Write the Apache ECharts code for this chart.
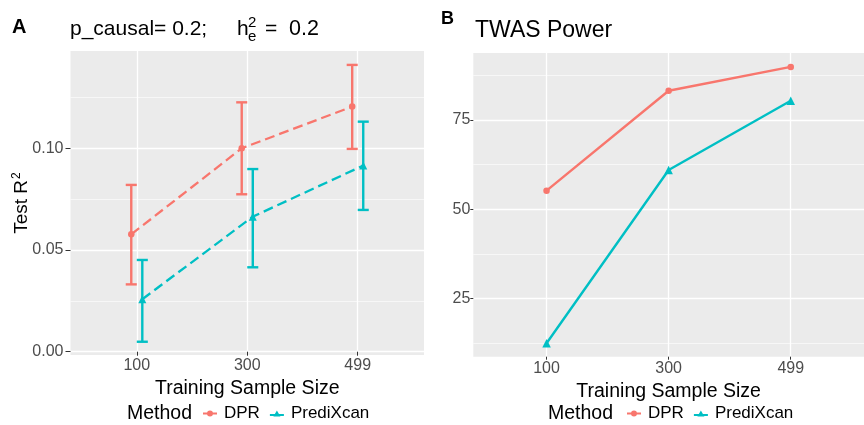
<!DOCTYPE html>
<html><head><meta charset="utf-8">
<script src="https://cdn.jsdelivr.net/npm/echarts@6/dist/echarts.min.js"></script>
<style>html,body{margin:0;padding:0;background:#fff}#c{width:864px;height:425px}</style>
</head><body><div id="c"></div>
<script>
// ---------- data ----------
const categories = ['100', '300', '499'];
const methods = ['DPR', 'PrediXcan'];
// Panel A: Test R^2 (mean, lower, upper)
const dprR2 = [0.0577, 0.1000, 0.1205];
const dprR2Low = [0.0331, 0.0774, 0.0997];
const dprR2High = [0.0820, 0.1226, 0.1410];
const predR2 = [0.0258, 0.0664, 0.0915];
const predR2Low = [0.0049, 0.0415, 0.0697];
const predR2High = [0.0451, 0.0898, 0.1131];
// Panel B: TWAS power
const dprPower = [55.2, 83.2, 89.9];
const predPower = [12.4, 61.0, 80.4];
// tick values
const r2Ticks = [0, 0.05, 0.10];
const r2Minor = [0.025, 0.075, 0.125];
const powerTicks = [25, 50, 75];
const powerMinor = [12.5, 37.5, 62.5, 87.5];

// ---------- style ----------
const FONT = 'Liberation Sans, Arial, Helvetica, sans-serif';
const RED = '#F8766D', CYAN = '#00BFC4';
const PANEL = '#EBEBEB';
const DODGE = 0.05, CAP = 0.05;
const catIdx = categories.map((c, i) => i);

const chart = echarts.init(document.getElementById('c'), null, {renderer: 'canvas'});

function xAxisFor(grid, tickLen, margin) {
  return {
    type: 'value', gridIndex: grid, min: -0.6, max: 2.6, position: 'bottom',
    axisLine: {show: false},
    axisTick: {show: true, customValues: catIdx, length: tickLen, lineStyle: {color: '#333', width: 1}},
    axisLabel: {customValues: catIdx, formatter: v => categories[Math.round(v)], color: '#4D4D4D', fontSize: 16, fontFamily: FONT, margin: margin},
    splitLine: {show: true, lineStyle: {color: '#fff', width: 1.3}},
    name: 'Training Sample Size', nameLocation: 'middle', nameGap: 20,
    nameTextStyle: {fontSize: 19.5, color: '#000', fontFamily: FONT}
  };
}
function yMajor(grid, min, max, ticks, fmt, tickLen, margin, extra) {
  return Object.assign({
    type: 'value', gridIndex: grid, min: min, max: max, position: 'left', offset: 0,
    axisLine: {show: false},
    axisTick: {show: true, customValues: ticks, length: tickLen, lineStyle: {color: '#333', width: 1}},
    axisLabel: {customValues: ticks, formatter: fmt, color: '#4D4D4D', fontSize: 16, fontFamily: FONT, margin: margin},
    splitLine: {show: true, lineStyle: {color: '#fff', width: 1.3}}
  }, extra || {});
}
function yMinor(grid, min, max, ticks) {
  return {
    type: 'value', gridIndex: grid, min: min, max: max, position: 'left', offset: 0,
    axisLine: {show: false},
    axisTick: {show: false, customValues: ticks},
    axisLabel: {show: false, customValues: ticks},
    splitLine: {show: true, lineStyle: {color: '#fff', width: 0.6}}
  };
}

function errRender(params, api) {
  const x = api.value(0), lo = api.value(1), hi = api.value(2);
  const pLo = api.coord([x, lo]), pHi = api.coord([x, hi]);
  const hw = api.size([CAP, 0])[0];
  const style = {stroke: api.visual('color'), lineWidth: 2.4, fill: null};
  return {type: 'group', children: [
    {type: 'line', shape: {x1: pLo[0], y1: pLo[1], x2: pHi[0], y2: pHi[1]}, style: style},
    {type: 'line', shape: {x1: pLo[0] - hw, y1: pLo[1], x2: pLo[0] + hw, y2: pLo[1]}, style: style},
    {type: 'line', shape: {x1: pHi[0] - hw, y1: pHi[1], x2: pHi[0] + hw, y2: pHi[1]}, style: style}
  ]};
}

const iconDot = 'path://M0,2L14,2L14,4L0,4Z M7,0 A3,3 0 1,1 6.99,0 Z';
const iconTri = 'path://M0,3.5L14,3.5L14,5.5L0,5.5Z M7,0 L10.5,6 L3.5,6 Z';
const legendData = [{name: 'DPR', icon: iconDot}, {name: 'PrediXcan', icon: iconTri}];
function legendAt(left) {
  return {
    left: left, top: 405, orient: 'horizontal', padding: 0, itemGap: 10,
    itemWidth: 14, itemHeight: 6, selectedMode: false,
    data: legendData,
    textStyle: {fontSize: 17, color: '#000', fontFamily: FONT, padding: [0, 0, 0, 2]}
  };
}

const fmtR2 = v => v.toFixed(2);
const fmtP = v => String(Math.round(v));

const option = {
  animation: false,
  backgroundColor: '#fff',
  grid: [
    {left: 70.5, top: 51, width: 353.5, height: 304, show: true, backgroundColor: PANEL, borderWidth: 0},
    {left: 473.3, top: 53, width: 390.7, height: 303.7, show: true, backgroundColor: PANEL, borderWidth: 0}
  ],
  xAxis: [xAxisFor(0, 4, 3), xAxisFor(1, 3, 4)],
  yAxis: [
    yMinor(0, -0.00162, 0.14784, r2Minor),
    yMajor(0, -0.00162, 0.14784, r2Ticks, fmtR2, 5, 7, {
      name: 'Test R{sup|2}', nameLocation: 'middle', nameGap: 38, nameRotate: 90, nameMoveOverlap: false,
      nameTextStyle: {fontSize: 19, color: '#000', fontFamily: FONT,
        rich: {sup: {fontSize: 12, color: '#000', fontFamily: FONT, padding: [0, 0, 10, 1]}}}
    }),
    yMinor(1, 8.63, 93.8, powerMinor),
    yMajor(1, 8.63, 93.8, powerTicks, fmtP, 3, 3)
  ],
  legend: [legendAt(203), legendAt(627)],
  graphic: [
    {type: 'text', x: 12, y: 27, style: {text: 'A', fontSize: 20, fontWeight: 'bold', fontFamily: FONT, fill: '#000', verticalAlign: 'middle'}},
    {type: 'text', x: 70, y: 29, style: {text: 'p_causal= 0.2;', fontSize: 21, fontFamily: FONT, fill: '#000', verticalAlign: 'middle'}},
    {type: 'text', x: 237, y: 29, style: {text: 'h', fontSize: 21, fontFamily: FONT, fill: '#000', verticalAlign: 'middle'}},
    {type: 'text', x: 248, y: 23, style: {text: '2', fontSize: 15, fontFamily: FONT, fill: '#000', verticalAlign: 'middle'}},
    {type: 'text', x: 248, y: 37, style: {text: 'e', fontSize: 15, fontFamily: FONT, fill: '#000', verticalAlign: 'middle'}},
    {type: 'text', x: 265, y: 29, style: {text: '=', fontSize: 21, fontFamily: FONT, fill: '#000', verticalAlign: 'middle'}},
    {type: 'text', x: 289, y: 29, style: {text: '0.2', fontSize: 21.5, fontFamily: FONT, fill: '#000', verticalAlign: 'middle'}},
    {type: 'text', x: 441, y: 19, style: {text: 'B', fontSize: 18, fontWeight: 'bold', fontFamily: FONT, fill: '#000', verticalAlign: 'middle'}},
    {type: 'text', x: 475, y: 30.5, style: {text: 'TWAS Power', fontSize: 23, fontFamily: FONT, fill: '#000', verticalAlign: 'middle'}},
    {type: 'text', x: 127, y: 413.5, style: {text: 'Method', fontSize: 19.5, fontFamily: FONT, fill: '#000', verticalAlign: 'middle'}},
    {type: 'text', x: 548, y: 414, style: {text: 'Method', fontSize: 19.5, fontFamily: FONT, fill: '#000', verticalAlign: 'middle'}}
  ],
  series: [
    // Panel A
    {name: 'DPR', type: 'line', xAxisIndex: 0, yAxisIndex: 1, color: RED,
     data: catIdx.map(i => [i - DODGE, dprR2[i]]),
     lineStyle: {width: 2.3, type: [10, 5], color: RED}, symbol: 'circle', symbolSize: 6.5, itemStyle: {color: RED}, z: 3},
    {name: 'PrediXcan', type: 'line', xAxisIndex: 0, yAxisIndex: 1, color: CYAN,
     data: catIdx.map(i => [i + DODGE, predR2[i]]),
     lineStyle: {width: 2.3, type: [10, 5], color: CYAN}, symbol: 'triangle', symbolSize: 8, itemStyle: {color: CYAN}, z: 3},
    {name: 'DPR', type: 'custom', xAxisIndex: 0, yAxisIndex: 1, renderItem: errRender,
     itemStyle: {color: RED}, encode: {x: 0, y: [1, 2]},
     data: catIdx.map(i => [i - DODGE, dprR2Low[i], dprR2High[i]]), z: 4},
    {name: 'PrediXcan', type: 'custom', xAxisIndex: 0, yAxisIndex: 1, renderItem: errRender,
     itemStyle: {color: CYAN}, encode: {x: 0, y: [1, 2]},
     data: catIdx.map(i => [i + DODGE, predR2Low[i], predR2High[i]]), z: 4},
    // Panel B
    {name: 'DPR', type: 'line', xAxisIndex: 1, yAxisIndex: 3, color: RED,
     data: catIdx.map(i => [i, dprPower[i]]),
     lineStyle: {width: 2.4, color: RED}, symbol: 'circle', symbolSize: 6.5, itemStyle: {color: RED}},
    {name: 'PrediXcan', type: 'line', xAxisIndex: 1, yAxisIndex: 3, color: CYAN,
     data: catIdx.map(i => [i, predPower[i]]),
     lineStyle: {width: 2.4, color: CYAN}, symbol: 'triangle', symbolSize: 8.5, itemStyle: {color: CYAN}}
  ]
};
chart.setOption(option);
</script>
</body></html>
